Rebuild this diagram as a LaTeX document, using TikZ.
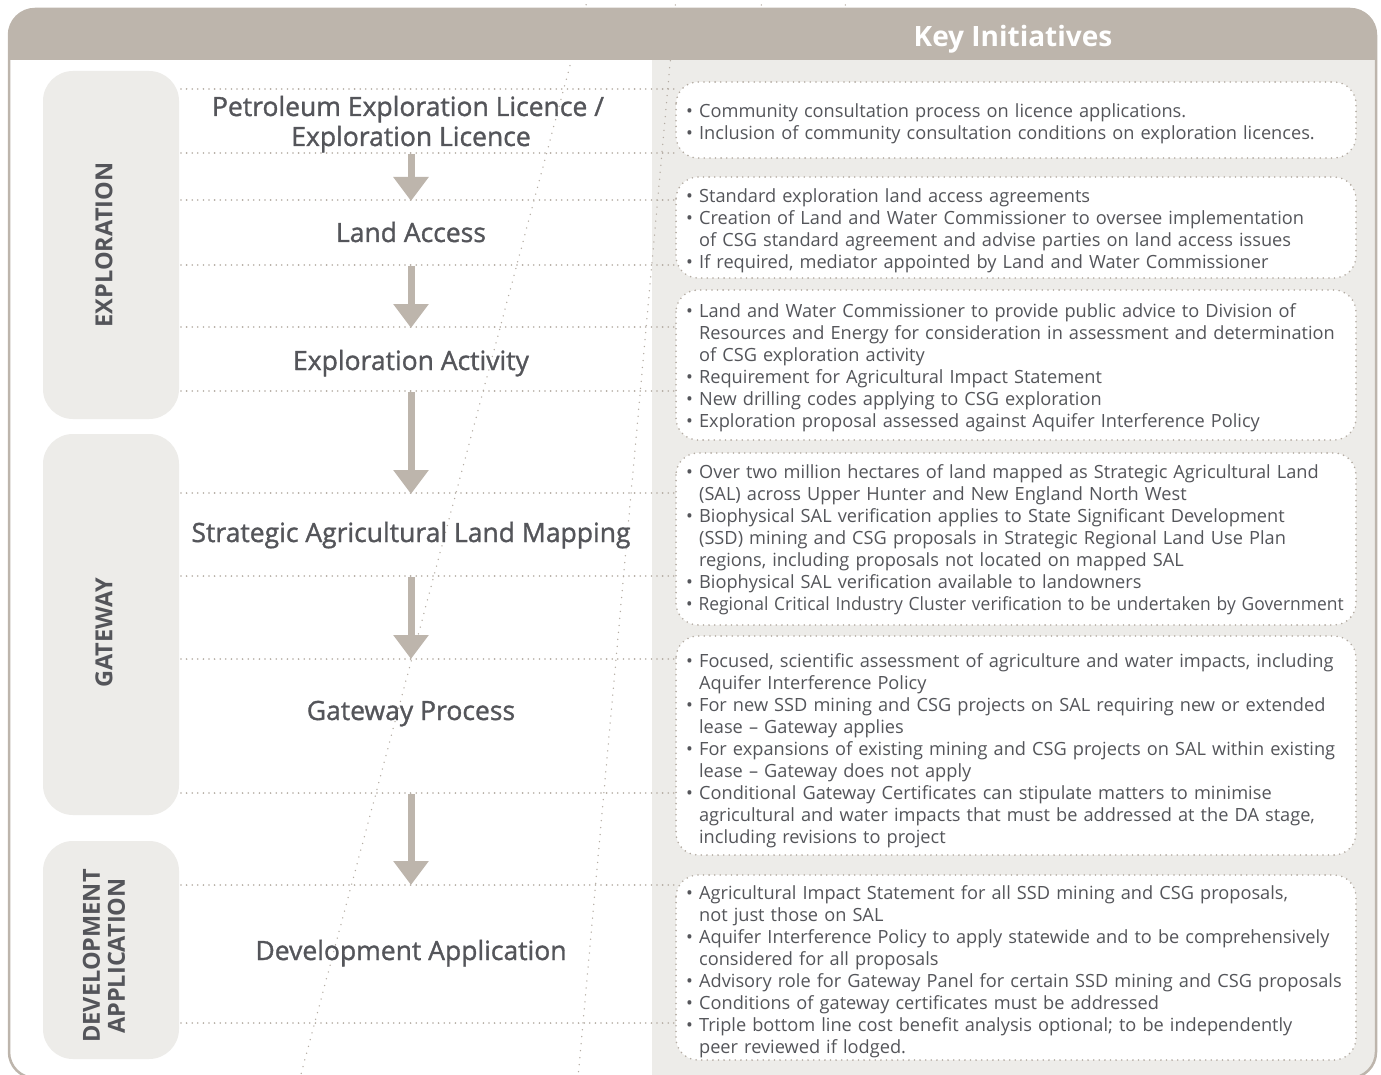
\documentclass[tikz,border=0pt]{standalone}
\usepackage{fontspec}
\usepackage{graphicx}
\setmainfont{Open Sans}
\newfontfamily\medfont{Open Sans}[FakeBold=1.2]
\usetikzlibrary{arrows.meta}
\definecolor{taupe}{HTML}{BDB5AC}
\definecolor{panelgray}{HTML}{EDECE9}
\definecolor{dotgray}{HTML}{B3ABA2}
\definecolor{txt}{HTML}{54555A}
\newcommand{\ind}{\hphantom{•\ }}
\tikzset{
 dotline/.style={draw=dotgray, line width=1.8pt, dash pattern=on 0pt off 5.6pt, line cap=round},
 diagline/.style={draw=dotgray, line width=1.5pt, dash pattern=on 0pt off 7pt, line cap=round},
 keybox/.style={fill=white, draw=dotgray, line width=1.8pt, dash pattern=on 0pt off 5.6pt, line cap=round, rounded corners=22pt},
 phasebox/.style={fill=panelgray, rounded corners=30pt},
 phaselabel/.style={rotate=90, text=txt, font=\bfseries\fontsize{23.5}{25}\selectfont, align=center, inner sep=0pt},
 steptitle/.style={text=txt, font=\medfont\fontsize{26.5}{30}\selectfont, inner sep=0pt, anchor=base},
 keytext/.style={text=txt, font=\fontsize{18.2}{22}\selectfont, align=left, text width=720pt, inner sep=0pt, anchor=base west},
 flowarrow/.style={draw=taupe, line width=7pt, -{Triangle[width=34pt,length=24pt]}},
}
\begin{document}
\begin{tikzpicture}[x=1pt,y=-1pt]
\useasboundingbox (0,0) rectangle (1381,1075);
\clip (0,0) rectangle (1381,1075);
% frame background
\begin{scope}
\clip[rounded corners=26pt] (9,9) rectangle (1376,1078);
\fill[white] (9,9) rectangle (1376,1078);
\fill[panelgray] (652,60) rectangle (1376,1078);
\end{scope}
% diagonal dotted lines
\coordinate (d1a) at (588,-2); \coordinate (d1b) at (300,1078);
\coordinate (d2a) at (676,-2); \coordinate (d2b) at (578,1078);
\coordinate (d3a) at (762,-2); \coordinate (d3b) at (761,10);
\coordinate (d4a) at (846,-2); \coordinate (d4b) at (845,10);
\draw[diagline] (d1a) -- (d1b);
\draw[diagline] (d2a) -- (d2b);
\draw[diagline] (d3a) -- (d3b);
\draw[diagline] (d4a) -- (d4b);
% header
\begin{scope}
\clip[rounded corners=26pt] (9,9) rectangle (1376,1078);
\fill[taupe] (9,9) rectangle (1376,60);
\end{scope}
\draw[taupe, line width=2.5pt, rounded corners=26pt] (9,9) rectangle (1376,1078);
\node[font=\bfseries\fontsize{28}{30}\selectfont, text=white, anchor=base] (hdr) at (1013,47) {Key Initiatives};
% phase boxes
\fill[phasebox] (43,71) rectangle (179,419);
\fill[phasebox] (43,434) rectangle (179,815);
\fill[phasebox] (43,841) rectangle (179,1059);
\node[phaselabel] (p1) at (104,245) {EXPLORATION};
\node[phaselabel] (p2) at (104,633) {GATEWAY};
\node[phaselabel] (p3) at (104,956) {DEVELOPMENT\\APPLICATION};
% horizontal dotted lines
\foreach \yy/\nm in {89/h1,153/h2,200/h3,265/h4,327/h5,391/h6,493/h7,576/h8,659/h9,793/h10,885/h11,1023/h12}{
  \coordinate (\nm a) at (181,\yy); \coordinate (\nm b) at (678,\yy);
  \draw[dotline] (\nm a) -- (\nm b);
}
% key boxes
\draw[keybox] (676,82) rectangle (1356,158);
\draw[keybox] (676,177) rectangle (1356,278);
\draw[keybox] (676,290) rectangle (1356,440);
\draw[keybox] (676,453) rectangle (1356,625);
\draw[keybox] (676,636) rectangle (1356,855);
\draw[keybox] (676,875) rectangle (1356,1060);
% step titles
\node[steptitle] (t1a) at (408,116) {Petroleum Exploration Licence /};
\node[steptitle] (t1b) at (411,146) {Exploration Licence};
\node[steptitle] (t2) at (411,242) {Land Access};
\node[steptitle] (t3) at (411,370) {Exploration Activity};
\node[steptitle] (t4) at (411,542) {Strategic Agricultural Land Mapping};
\node[steptitle] (t5) at (411,720) {Gateway Process};
\node[steptitle] (t6) at (411,960) {Development Application};
% arrows
\coordinate (a1s) at (411,154); \coordinate (a1e) at (411,201);
\coordinate (a2s) at (411,266); \coordinate (a2e) at (411,328);
\coordinate (a3s) at (411,392); \coordinate (a3e) at (411,494);
\coordinate (a4s) at (411,577); \coordinate (a4e) at (411,659);
\coordinate (a5s) at (411,794); \coordinate (a5e) at (411,885);
\draw[flowarrow] (a1s) -- (a1e);
\draw[flowarrow] (a2s) -- (a2e);
\draw[flowarrow] (a3s) -- (a3e);
\draw[flowarrow] (a4s) -- (a4e);
\draw[flowarrow] (a5s) -- (a5e);
% key texts
\node[keytext] (k1) at (686,118) {• Community consultation process on licence applications.\\
• Inclusion of community consultation conditions on exploration licences.};
\node[keytext] (k2) at (686,203) {• Standard exploration land access agreements\\
• Creation of Land and Water Commissioner to oversee implementation\\
\ind of CSG standard agreement and advise parties on land access issues\\
• If required, mediator appointed by Land and Water Commissioner};
\node[keytext] (k3) at (686,317) {• Land and Water Commissioner to provide public advice to Division of\\
\ind Resources and Energy for consideration in assessment and determination\\
\ind of CSG exploration activity\\
• Requirement for Agricultural Impact Statement\\
• New drilling codes applying to CSG exploration\\
• Exploration proposal assessed against Aquifer Interference Policy};
\node[keytext] (k4) at (686,478) {• Over two million hectares of land mapped as Strategic Agricultural Land\\
\ind (SAL) across Upper Hunter and New England North West\\
• Biophysical SAL verification applies to State Significant Development\\
\ind (SSD) mining and CSG proposals in Strategic Regional Land Use Plan\\
\ind regions, including proposals not located on mapped SAL\\
• Biophysical SAL verification available to landowners\\
\scalebox{0.958}[1]{• Regional Critical Industry Cluster verification to be undertaken by Government}};
\node[keytext] (k5) at (686,667) {• Focused, scientific assessment of agriculture and water impacts, including\\
\ind Aquifer Interference Policy\\
• For new SSD mining and CSG projects on SAL requiring new or extended\\
\ind lease – Gateway applies\\
• For expansions of existing mining and CSG projects on SAL within existing\\
\ind lease – Gateway does not apply\\
• Conditional Gateway Certificates can stipulate matters to minimise\\
\ind agricultural and water impacts that must be addressed at the DA stage,\\
\ind including revisions to project};
\node[keytext] (k6) at (686,899) {• Agricultural Impact Statement for all SSD mining and CSG proposals,\\
\ind not just those on SAL\\
• Aquifer Interference Policy to apply statewide and to be comprehensively\\
\ind considered for all proposals\\
• Advisory role for Gateway Panel for certain SSD mining and CSG proposals\\
• Conditions of gateway certificates must be addressed\\
• Triple bottom line cost benefit analysis optional; to be independently\\
\ind peer reviewed if lodged.};
\end{tikzpicture}
\end{document}
